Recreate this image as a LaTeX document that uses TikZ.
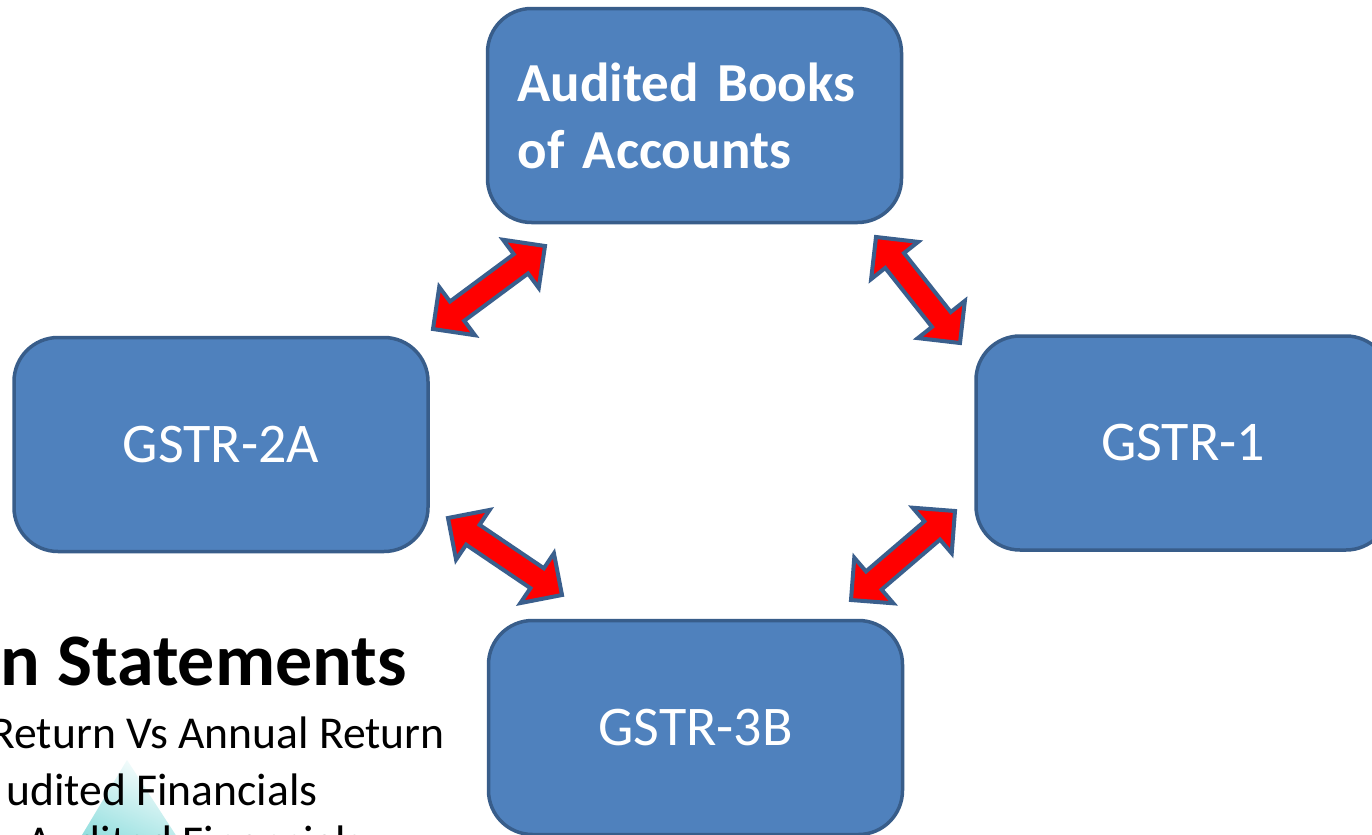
\documentclass[tikz,border=0pt]{standalone}
\usepackage{fontspec}
\setmainfont{Carlito}
\usetikzlibrary{calc}
\definecolor{boxfill}{HTML}{4F81BD}
\definecolor{boxline}{HTML}{385D8A}
\definecolor{arrowline}{HTML}{3A5F8D}
\definecolor{tealc}{RGB}{110,212,212}
\tikzset{
  gbox/.style={draw=boxline, line width=1.75pt, fill=boxfill, rounded corners=22pt,
    minimum width=207pt, minimum height=107pt, inner sep=0pt, text=white,
    font=\fontsize{28}{34}\selectfont},
  topbox/.style={gbox, align=left, text width=177pt, inner xsep=15pt,
    font=\bfseries\fontsize{27.5}{33.5}\selectfont},
  blockarrow/.style={draw=arrowline, fill=red, line width=2pt, line join=miter},
  bodytext/.style={inner sep=0pt, text=black, font=\fontsize{22.8}{26}\selectfont}
}
\newcommand\dblarrow[3]{%
  \path ($(#1)!15pt!(#2)$) coordinate (#3ha) ($(#2)!15pt!(#1)$) coordinate (#3hb);
  \draw[blockarrow] (#1) -- ($(#3ha)!15pt!90:(#2)$) -- ($(#3ha)!6pt!90:(#2)$)
    -- ($(#3hb)!6pt!-90:(#1)$) -- ($(#3hb)!15pt!-90:(#1)$) -- (#2)
    -- ($(#3hb)!15pt!90:(#1)$) -- ($(#3hb)!6pt!90:(#1)$)
    -- ($(#3ha)!6pt!-90:(#2)$) -- ($(#3ha)!15pt!-90:(#2)$) -- cycle;
}
\begin{document}
\begin{tikzpicture}[x=0.5pt,y=-0.5pt]
\useasboundingbox (0,0) rectangle (1372,835);
\clip (0,0) rectangle (1372,835);
\fill[white] (0,0) rectangle (1372,835);
% teal drop in background
\shade[shading=axis, top color=white, bottom color=tealc, shading angle=-25]
  (127,760) -- (205,880) -- (55,880) -- cycle;
% side text
\node[bodytext, anchor=base east, font=\bfseries\fontsize{37}{40}\selectfont] (title) at (407,685) {n Statements};
\node[bodytext, anchor=base east] (line1) at (445,748) {Return Vs Annual Return};
\node[bodytext, anchor=base east] (line2) at (318,805) {udited Financials};
\node[bodytext, anchor=base west] (line3) at (26,857) {Audited Financials};
% boxes
\node[topbox] (books) at (694.5,115.5) {Audited Books\\of Accounts};
\node[gbox] (g2a) at (221,444.5) {GSTR-2A};
\node[gbox] (g1) at (1183,443) {GSTR-1};
\node[gbox] (g3b) at (695.5,727.5) {GSTR-3B};
% arrow end points
\coordinate (a1s) at (433,329);
\coordinate (a1e) at (545,246);
\coordinate (a2s) at (876,237);
\coordinate (a2e) at (960,343);
\coordinate (a3s) at (448,518);
\coordinate (a3e) at (562,595);
\coordinate (a4s) at (955,511);
\coordinate (a4e) at (851,600);
\dblarrow{a1s}{a1e}{p}
\dblarrow{a2s}{a2e}{q}
\dblarrow{a3s}{a3e}{r}
\dblarrow{a4s}{a4e}{s}
\end{tikzpicture}
\end{document}
